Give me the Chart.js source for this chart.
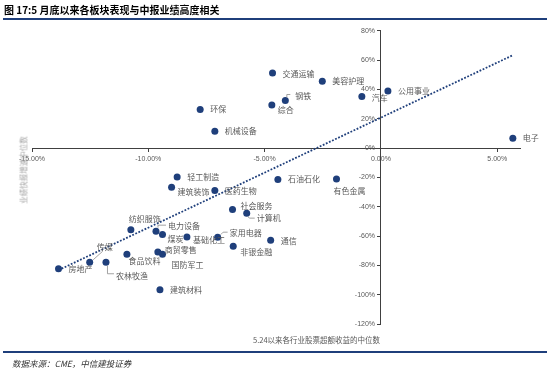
<!DOCTYPE html>
<html>
<head>
<meta charset="utf-8">
<script src="https://cdn.jsdelivr.net/npm/chart.js@4.4.0/dist/chart.umd.min.js"></script>
<style>
    body { margin: 0; background: #fff; }
    #wrap { position: relative; width: 550px; height: 374px; overflow: hidden; font-family: "Noto Sans CJK SC", sans-serif; }
    #title { position: absolute; left: 4px; top: 2px; font-size: 10px; font-weight: 700; color: #000; white-space: nowrap; }
    #topline { position: absolute; left: 3px; top: 18px; width: 544px; height: 2px; background: #1f3f7b; }
    #botline { position: absolute; left: 3px; top: 351px; width: 544px; height: 1.5px; background: #1f3f7b; }
    #source { position: absolute; left: 12px; top: 357px; font-size: 8.5px; font-style: italic; color: #333; white-space: nowrap; }
    #xtitle { position: absolute; left: 253px; top: 334px; font-size: 7.5px; color: #595959; white-space: nowrap; }
    #ytitle { position: absolute; left: 23px; top: 170px; font-size: 7.5px; color: #a6a6a6; white-space: nowrap;
              transform: translate(-50%, -50%) rotate(-90deg); }
    canvas { position: absolute; left: 0; top: 0; }
</style>
</head>
<body>
<div id="wrap">
    <canvas id="chart1" width="550" height="374"></canvas>
    <div id="title">图 17:5 月底以来各板块表现与中报业绩高度相关</div>
    <div id="topline"></div>
    <div id="xtitle">5.24以来各行业股票超额收益的中位数</div>
    <div id="ytitle">业绩快报增速中位数</div>
    <div id="botline"></div>
    <div id="source">数据来源：CME，中信建投证券</div>
</div>
<script>
// Données (en %)
const industries = ['电子', '公用事业', '汽车', '美容护理', '交通运输', '钢铁', '综合', '环保', '机械设备',
    '石油石化', '有色金属', '轻工制造', '建筑装饰', '医药生物', '社会服务', '计算机',
    '纺织服饰', '电力设备', '煤炭', '基础化工', '家用电器', '通信', '非银金融',
    '商贸零售', '国防军工', '食品饮料', '传媒', '农林牧渔', '房地产', '建筑材料'];
const excessReturn = [5.67, 0.30, -0.82, -2.52, -4.66, -4.11, -4.69, -7.77, -7.14,
    -4.43, -1.91, -8.76, -9.00, -7.14, -6.38, -5.77,
    -10.75, -9.67, -9.39, -8.34, -7.02, -4.74, -6.35,
    -9.59, -9.39, -10.92, -12.52, -11.82, -13.86, -9.50];
const profitGrowth = [6.6, 38.8, 35.1, 45.6, 51.1, 32.4, 29.4, 26.3, 11.4,
    -21.4, -21.2, -19.8, -26.7, -28.9, -41.9, -44.4,
    -55.8, -56.7, -59.0, -60.6, -60.8, -62.9, -67.0,
    -70.9, -72.5, -72.5, -77.9, -77.9, -82.3, -96.6];
const xTicks = [-15, -10, -5, 0, 5];
const yTicks = [80, 60, 40, 20, 0, -20, -40, -60, -80, -100, -120];

const navy = '#1f3f7b';

// Position des étiquettes par rapport au point
const labelPos = {
    '电子': [10, 0], '公用事业': [10, 0], '汽车': [10, 1], '美容护理': [10, 0], '交通运输': [10, 0.5],
    '钢铁': [10, -5], '综合': [6, 5], '环保': [10, 0], '机械设备': [10, 0], '石油石化': [10, 0],
    '有色金属': [-3, 12], '轻工制造': [10, 0], '建筑装饰': [6, 5], '医药生物': [10, 0.5],
    '社会服务': [8, -3.5], '计算机': [10, 4.5], '纺织服饰': [-2, -10.5], '电力设备': [12, -5.5],
    '煤炭': [5, 4.5], '基础化工': [6, 3], '家用电器': [12, -4.5], '通信': [10, 0.5],
    '非银金融': [7, 5.5], '商贸零售': [7, -2.5], '国防军工': [9, 10.5], '食品饮料': [1.5, 7],
    '传媒': [7, -15], '农林牧渔': [10, 13.5], '房地产': [10, 0.5], '建筑材料': [10, 0.5]
};
const leaders = {
    '钢铁': [[1.5, -3], [1.5, -6], [5, -6]],
    '计算机': [[1, 3.5], [3, 5], [8, 5]],
    '家用电器': [[3, -2.5], [5.5, -5], [10, -5]],
    '电力设备': [[2, -3.5], [2, -6], [10, -6]],
    '传媒': [[3.5, -2.5], [13, -11]],
    '农林牧渔': [[1.5, 3.5], [1.5, 11.5], [8, 11.5]]
};

const points = industries.map((name, i) => ({ x: excessReturn[i], y: profitGrowth[i] }));

// Droite de tendance (moindres carrés)
function trendLine() {
    const n = excessReturn.length;
    const mx = excessReturn.reduce((a, b) => a + b, 0) / n;
    const my = profitGrowth.reduce((a, b) => a + b, 0) / n;
    let sxy = 0, sxx = 0;
    for (let i = 0; i < n; i++) {
        sxy += (excessReturn[i] - mx) * (profitGrowth[i] - my);
        sxx += (excessReturn[i] - mx) * (excessReturn[i] - mx);
    }
    const b = sxy / sxx;
    const a = my - b * mx;
    const x0 = Math.min(...excessReturn);
    const x1 = Math.max(...excessReturn);
    return [{ x: x0, y: a + b * x0 }, { x: x1, y: a + b * x1 }];
}

const labelPlugin = {
    id: 'pointLabels',
    afterDatasetsDraw(chart) {
        const ctx = chart.ctx;
        const meta = chart.getDatasetMeta(1);
        ctx.save();
        ctx.font = '8px "Noto Sans CJK SC"';
        ctx.fillStyle = '#595959';
        ctx.textBaseline = 'middle';
        ctx.textAlign = 'left';
        ctx.strokeStyle = '#8c8c8c';
        ctx.lineWidth = 0.8;
        meta.data.forEach((pt, i) => {
            const name = industries[i];
            const off = labelPos[name] || [10, 0];
            ctx.fillText(name, pt.x + off[0], pt.y + off[1]);
            const l = leaders[name];
            if (l) {
                ctx.beginPath();
                l.forEach((p, j) => {
                    if (j === 0) ctx.moveTo(pt.x + p[0], pt.y + p[1]);
                    else ctx.lineTo(pt.x + p[0], pt.y + p[1]);
                });
                ctx.stroke();
            }
        });
        ctx.restore();
    }
};

const tickFont = { family: '"Liberation Sans", sans-serif', size: 7 };

new Chart(document.getElementById('chart1'), {
    type: 'scatter',
    data: {
        datasets: [{
            type: 'line',
            data: trendLine(),
            borderColor: navy,
            borderWidth: 1.8,
            borderDash: [1.8, 1.6],
            pointRadius: 0,
            fill: false
        }, {
            data: points,
            backgroundColor: navy,
            borderColor: navy,
            pointRadius: 3.5,
            borderWidth: 0
        }]
    },
    options: {
        responsive: false,
        animation: false,
        devicePixelRatio: 1,
        layout: { padding: { left: 32, right: 29.5, top: 30.7, bottom: 50 } },
        plugins: { legend: { display: false }, tooltip: { enabled: false } },
        scales: {
            x: {
                type: 'linear',
                min: -15,
                max: 6,
                position: { y: 0 },
                afterFit: (scale) => { scale.height = 0; },
                afterBuildTicks: (scale) => { scale.ticks = xTicks.map(v => ({ value: v })); },
                grid: { drawOnChartArea: false, drawTicks: true, tickLength: 3, color: '#404040' },
                border: { color: '#404040', width: 1 },
                ticks: {
                    font: tickFont, color: '#595959', padding: 4, maxRotation: 0,
                    callback: (v) => v.toFixed(2) + '%'
                }
            },
            y: {
                type: 'linear',
                min: -120,
                max: 80,
                position: { x: 0 },
                afterFit: (scale) => { scale.width = 0; },
                afterBuildTicks: (scale) => { scale.ticks = yTicks.map(v => ({ value: v })); },
                grid: { drawOnChartArea: false, drawTicks: true, tickLength: 3, color: '#404040' },
                border: { color: '#404040', width: 1 },
                ticks: {
                    font: tickFont, color: '#595959', padding: 3,
                    // espaces pour décoller les étiquettes de l'axe
                    callback: (v) => v + '%   '
                }
            }
        }
    },
    plugins: [labelPlugin]
});
</script>
</body>
</html>
